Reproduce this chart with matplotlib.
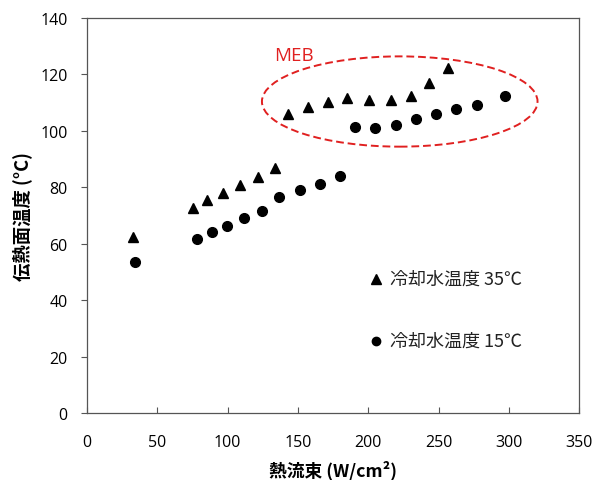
import numpy as np
import matplotlib.pyplot as plt
from matplotlib.patches import Ellipse

plt.rcParams['font.family'] = ['Open Sans', 'Noto Sans CJK JP', 'DejaVu Sans']

# 冷却水温度 35℃ (三角)
q35 = [32.7, 75.4, 85.3, 96.9, 108.8, 121.4, 133.9,
       142.7, 157.2, 171.1, 184.9, 200.8, 216.4, 230.4, 243.5, 256.5]
t35 = [62.4, 72.7, 75.5, 78.0, 80.9, 83.7, 87.0,
       106.1, 108.4, 110.1, 111.6, 111.1, 111.0, 112.5, 117.1, 122.2]

# 冷却水温度 15℃ (丸)
q15 = [34.1, 78.0, 88.6, 99.8, 111.9, 124.7, 136.8, 151.2, 165.7, 180.2,
       190.6, 204.6, 220.0, 234.2, 248.2, 262.4, 277.6, 297.0]
t15 = [53.4, 61.7, 64.1, 66.4, 69.0, 71.6, 76.5, 79.1, 81.1, 84.0,
       101.4, 101.0, 102.1, 104.3, 106.1, 107.8, 109.2, 112.5]

xticks = [0, 50, 100, 150, 200, 250, 300, 350]
yticks = [0, 20, 40, 60, 80, 100, 120, 140]

fig = plt.figure(figsize=(5.94, 4.81), dpi=100)
ax = fig.add_axes([0.1465, 0.1393, 0.8285, 0.8212])

ax.plot(q35, t35, '^', color='black', markersize=7.5, linestyle='none')
ax.plot(q15, t15, 'o', color='black', markersize=7, linestyle='none')

# MEB 領域
ax.add_patch(Ellipse((222.4, 110.4), 196, 32, fill=False, edgecolor='#e02020',
                     linestyle=(0, (4, 2)), linewidth=1.4))
ax.text(133, 127, 'MEB', color='#e02020', fontsize=13.5, va='center')

# 凡例 (図中テキスト)
cjk = ['Noto Sans CJK JP', 'DejaVu Sans']
ax.plot([205.5], [47.5], '^', color='black', markersize=6.5)
ax.text(215.5, 47.5, '冷却水温度 35℃', fontsize=13, va='center', family=cjk,
        color='#222222')
ax.plot([205.5], [25.5], 'o', color='black', markersize=6)
ax.text(215.5, 25.5, '冷却水温度 15℃', fontsize=13, va='center', family=cjk,
        color='#222222')

ax.set_xlim(0, 350)
ax.set_ylim(0, 140)
ax.set_xticks(xticks)
ax.set_yticks(yticks)
ax.tick_params(axis='x', direction='in', length=4, color='#555555', labelsize=11.5, pad=15)
ax.tick_params(axis='y', direction='out', length=4, color='#555555', labelsize=11.5, pad=10)
for s in ax.spines.values():
    s.set_color('#555555')
    s.set_linewidth(0.9)

ax.set_xlabel('熱流束 (W/cm²)', fontsize=12.8, fontweight='bold', family=cjk, labelpad=7)
ax.set_ylabel('伝熱面温度 (°C)', fontsize=13.2, fontweight='bold', family=cjk, labelpad=6)

fig.savefig('out.png', dpi=100)
